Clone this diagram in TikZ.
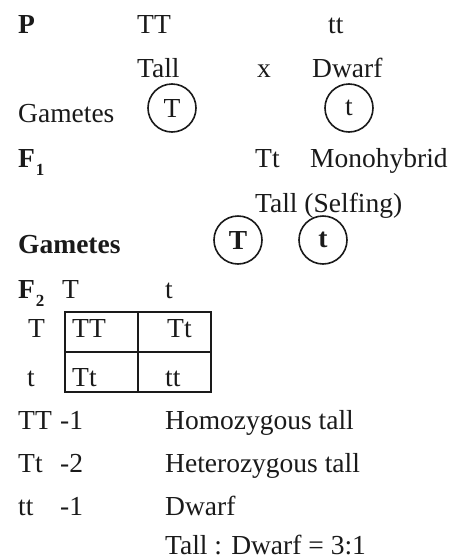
\documentclass[tikz,border=0pt]{standalone}
\usepackage{fontspec}
\setmainfont{Liberation Serif}
\usetikzlibrary{positioning}
\definecolor{ink}{HTML}{1A1A1A}
\tikzset{
	word/.style={
		anchor=base west,
		inner sep=0pt,
		text=ink,
	},
	gamete/.style={
		circle,
		draw=ink,
		line width=1.6pt,
		minimum size=48pt,
		inner sep=0pt,
		text=ink,
	},
	grid/.style={
		draw=ink,
		line width=1.8pt,
	}
}
\newcommand{\gen}[2]{\textbf{#1}\kern1pt\raisebox{-8pt}{\fontsize{17}{17}\selectfont\bfseries #2}}

\begin{document}
\begin{tikzpicture}[x=1pt,y=-1pt,font=\fontsize{27.5}{33}\selectfont]
		\useasboundingbox (0,0) rectangle (453,560);
		\fill[white] (0,0) rectangle (453,560);
		% parents
		\node [word] (p) at (18,33) {\textbf{P}};
		\node [word] (pTT) at (137,33) {TT};
		\node [word] (ptt) at (328,33) {tt};
		\node [word] (tall) at (137,77) {Tall};
		\node [word] (cross) at (257,77) {x};
		\node [word] (dwarf) at (312,77) {Dwarf};
		\node [word] (gam1) at (18,122) {Gametes};
		\node [gamete] (gT) at (172,108) {T};
		\node [gamete] (gt) at (349,108) {t};
		% F1
		\node [word] (f1) at (18,167) {\gen{F}{1}};
		\node [word] (f1Tt) at (255,167) {Tt};
		\node [word] (mono) at (310,167) {Monohybrid};
		\node [word] (self) at (255,212) {Tall (Selfing)};
		\node [word] (gam2) at (18,253) {\textbf{Gametes}};
		\node [gamete] (fT) at (238,240) {\textbf{T}};
		\node [gamete] (ft) at (323,240) {\textbf{t}};
		% F2 checkerboard
		\node [word] (f2) at (18,298) {\gen{F}{2}};
		\node [word] (colT) at (62,298) {T};
		\node [word] (colt) at (165,298) {t};
		\node [word] (rowT) at (28,337) {T};
		\node [word] (rowt) at (27,386) {t};
		\draw [grid] (65,312) rectangle (211,392);
		\draw [grid] (138,312) -- (138,392);
		\draw [grid] (65,352) -- (211,352);
		\node [word] (c11) at (72,337) {TT};
		\node [word] (c12) at (167,337) {Tt};
		\node [word] (c21) at (72,386) {Tt};
		\node [word] (c22) at (165,386) {tt};
		% ratio
		\node [word] (rTT) at (18,429) {TT};
		\node [word] (nTT) at (60,429) {-1};
		\node [word] (rTt) at (18,472) {Tt};
		\node [word] (nTt) at (60,472) {-2};
		\node [word] (rtt) at (18,515) {tt};
		\node [word] (ntt) at (60,515) {-1};
		\node [word] (homo) at (165,429) {Homozygous tall};
		\node [word] (hetero) at (165,472) {Heterozygous tall};
		\node [word] (dw) at (165,515) {Dwarf};
		\node [word] (ratio) at (165,554) {Tall : Dwarf = 3:1};
\end{tikzpicture}
\end{document}
